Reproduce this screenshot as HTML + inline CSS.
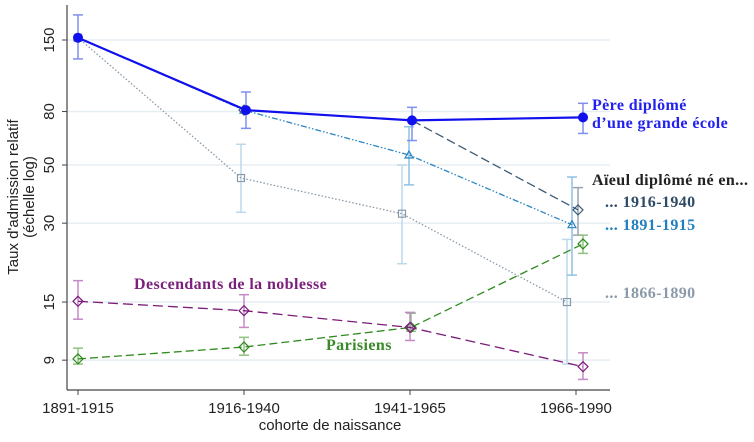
<!DOCTYPE html>
<html><head><meta charset="utf-8"><style>
body{margin:0;background:#fff;width:754px;height:442px;overflow:hidden}
svg{display:block}
.t{font-family:"Liberation Sans",sans-serif}
.s{font-family:"Liberation Serif",serif;font-weight:bold;font-size:16px;letter-spacing:0.4px}
</style></head><body>
<svg id="chart" width="754" height="442">
<g id="grid"></g><g id="series"></g><g id="axes"></g>
<text class="s" x="592" y="110" fill="#2222ee">Père diplômé</text>
<text class="s" x="592" y="128" fill="#2222ee">d’une grande école</text>
<text class="s" x="592" y="185" fill="#222">Aïeul diplômé né en...</text>
<text class="s" x="605" y="207" fill="#2f4a66">... 1916-1940</text>
<text class="s" x="605" y="230" fill="#1f7fbf">... 1891-1915</text>
<text class="s" x="605" y="298" fill="#8a9aa8">... 1866-1890</text>
<text class="s" x="134" y="289" fill="#7b1f7b">Descendants de la noblesse</text>
<text class="s" x="326" y="350" fill="#3a8a2a">Parisiens</text>
<text class="t" x="330" y="430" font-size="15" fill="#222" text-anchor="middle">cohorte de naissance</text>
<text class="t" font-size="15" fill="#222" text-anchor="middle" transform="translate(18,197) rotate(-90)">Taux d'admission relatif</text>
<text class="t" font-size="15" fill="#222" text-anchor="middle" transform="translate(34,197) rotate(-90)">(échelle log)</text>
</svg>
<script>
const categories=["1891-1915","1916-1940","1941-1965","1966-1990"];
const yTicks=[150,80,50,30,15,9];
const father=[153,81,74,76], fatherLo=[127,69,62,66], fatherHi=[187,95,83,86];
const anc1916=[null,81,74,33.7], anc1916Lo=[null,null,null,27], anc1916Hi=[null,null,null,41];
const anc1891=[153,81,54.6,29.6], anc1891Lo=[null,null,42,19], anc1891Hi=[null,null,70,45];
const anc1866=[153,44.6,32.6,15], anc1866Lo=[null,33,21,8.7], anc1866Hi=[null,60,50,26];
const paris=[9.1,10.1,12,25], parisLo=[8.7,9.4,11.6,23], parisHi=[10,11,13.6,27];
const noble=[15.1,13.9,12,8.5], nobleLo=[12.9,12,10.7,7.6], nobleHi=[18.1,16,13.7,9.6];
const NS="http://www.w3.org/2000/svg";
const X0=67,X1=610,AXY=390;
function x(i,off){return 78+i*166+(off||0);}
function y(v){return 40+(Math.log(150)-Math.log(v))*113.8;}
function mk(tag,a,parent){const e=document.createElementNS(NS,tag);for(const k in a)e.setAttribute(k,a[k]);parent.appendChild(e);return e;}
const grid=document.getElementById('grid'),ser=document.getElementById('series'),ax=document.getElementById('axes');
yTicks.forEach(t=>{
 const g=mk('line',{x1:X0,x2:X1,y1:y(t),y2:y(t),stroke:'#e6eef2','stroke-width':1.5},grid);
 
 
 const tk=mk('line',{x1:X0-5,x2:X0,y1:y(t),y2:y(t),stroke:'#444'},ax);
 
 
 const lb=mk('text',{class:'t','font-size':15,fill:'#222','text-anchor':'middle',transform:`translate(54,${y(t)}) rotate(-90)`},ax);
 lb.textContent=t;
 
 
});
const ya=mk('line',{x1:X0,x2:X0,y1:5,y2:AXY,stroke:'#444','stroke-width':1.2},ax);


const xa=mk('line',{x1:X0,x2:X1,y1:AXY,y2:AXY,stroke:'#444','stroke-width':1.2},ax);


categories.forEach((c,i)=>{
 const tk=mk('line',{x1:x(i),x2:x(i),y1:AXY,y2:AXY+5,stroke:'#444'},ax);
 
 
 const lb=mk('text',{class:'t',x:x(i),y:AXY+23,'font-size':15,fill:'#222','text-anchor':'middle'},ax);
 lb.textContent=c;
 
 
});
function series(name,vals,lo,hi,offs,col,ecol,dash,w,marker){
 const g=mk('g',{},ser);
 
 
 vals.forEach((v,i)=>{if(v==null||lo[i]==null)return;
  const xx=x(i,offs[i]);
  mk('line',{x1:xx,x2:xx,y1:y(hi[i]),y2:y(lo[i]),stroke:ecol,'stroke-width':1.5},g);
  mk('line',{x1:xx-5,x2:xx+5,y1:y(hi[i]),y2:y(hi[i]),stroke:ecol,'stroke-width':1.5},g);
  mk('line',{x1:xx-5,x2:xx+5,y1:y(lo[i]),y2:y(lo[i]),stroke:ecol,'stroke-width':1.5},g);
 });
 let p='';vals.forEach((v,i)=>{if(v==null)return;p+=(p?'L':'M')+x(i,offs[i])+','+y(v);});
 mk('path',{d:p,fill:'none',stroke:col,'stroke-width':w,'stroke-dasharray':dash},g);
 vals.forEach((v,i)=>{if(v==null)return;const xx=x(i,offs[i]),yy=y(v);let m;
  if(marker==='circle')m=mk('circle',{cx:xx,cy:yy,r:5,fill:col},g);
  else if(marker==='diamond')m=mk('path',{d:`M${xx},${yy-5}L${xx+5},${yy}L${xx},${yy+5}L${xx-5},${yy}Z`,fill:'none',stroke:col,'stroke-width':1.2},g);
  else if(marker==='tri')m=mk('path',{d:`M${xx},${yy-4}L${xx+4},${yy+3}L${xx-4},${yy+3}Z`,fill:'none',stroke:col,'stroke-width':1.2},g);
  else m=mk('rect',{x:xx-3.5,y:yy-3.5,width:7,height:7,fill:'none',stroke:col,'stroke-width':1.2},g);
  
  
 });
}
series('series-ancestor-1866-1890',anc1866,anc1866Lo,anc1866Hi,[0,-3,-8,-9],'#8a9aa8','#bcd8ea','1.5,2',1.3,'square');
series('series-ancestor-1891-1915',anc1891,anc1891Lo,anc1891Hi,[0,0,-1,-4],'#2a85c0','#8fc1e3','6,2,1.5,2,1.5,2',1.3,'tri');
series('series-ancestor-1916-1940',anc1916,anc1916Lo,anc1916Hi,[0,0,2,2],'#3e5a75','#9aa3ad','9,4',1.3,'diamond');
series('series-parisiens',paris,parisLo,parisHi,[0,0,1,7],'#2e8a1e','#8fc27f','8,4',1.3,'diamond');
series('series-noblesse',noble,nobleLo,nobleHi,[0,0,0,7],'#7a1a7a','#c58ac5','10,5',1.3,'diamond');
series('series-father',father,fatherLo,fatherHi,[0,2,2,7],'#1010ee','#7f8fef','none',2.2,'circle');
</script>
</body></html>
